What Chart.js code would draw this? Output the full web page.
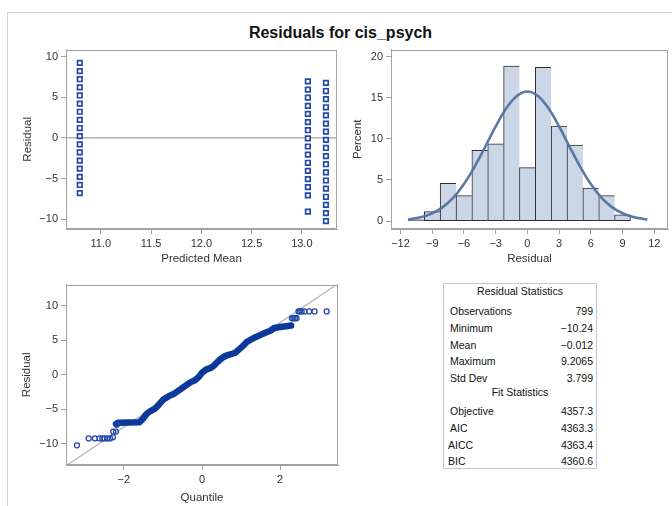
<!DOCTYPE html>
<html>
<head>
<meta charset="utf-8">
<script src="https://cdn.jsdelivr.net/npm/chart.js@4.4.0/dist/chart.umd.min.js"></script>
<style>
    html, body { margin: 0; padding: 0; background: #fff; width: 672px; height: 506px; overflow: hidden; }
    body { position: relative; font-family: "Liberation Sans", Arial, sans-serif; color: #222; }
    #frame { position: absolute; left: 7px; top: 12px; width: 700px; height: 520px;
             border-left: 1px solid #d4d4d4; border-top: 1px solid #d4d4d4; }
    #title { position: absolute; left: 0; width: 681px; top: 24px; line-height: 18px;
             text-align: center; font-size: 16px; font-weight: bold; color: #111; }
    canvas { position: absolute; }
    #stats { position: absolute; left: 443px; top: 283px; width: 154px; height: 186px;
             border: 1px solid #c8c8c8; box-sizing: border-box; font-size: 10.5px; color: #111; }
    #stats div { position: absolute; line-height: 12px; white-space: nowrap; }
</style>
</head>
<body>
<div id="frame"></div>
<div id="title">Residuals for cis_psych</div>
<canvas id="c1" width="345" height="229" style="left:0px; top:40px;"></canvas>
<canvas id="c2" width="327" height="229" style="left:345px; top:40px;"></canvas>
<canvas id="c3" width="345" height="231" style="left:0px; top:275px;"></canvas>
<div id="stats"></div>
<script>
// 잔차 vs 예측 평균 (세 그룹)
const predMean = [10.79, 13.06, 13.24];
const resGroup1 = [9.21, 8.21, 7.21, 6.21, 5.21, 4.21, 3.21, 2.21, 1.21, 0.21, -0.79, -1.79, -2.79, -3.79, -4.79, -5.79, -6.79];
const resGroup2 = [6.94, 5.94, 4.94, 3.94, 2.94, 1.94, 0.94, -0.06, -1.06, -2.06, -3.06, -4.06, -5.06, -6.06, -7.06, -9.06];
const resGroup3 = [6.76, 5.76, 4.76, 3.76, 2.76, 1.76, 0.76, -0.24, -1.24, -2.24, -3.24, -4.24, -5.24, -6.24, -7.24, -8.24, -9.24, -10.24];
const meanTicks = [11.0, 11.5, 12.0, 12.5, 13.0];
const residTicks = [-10, -5, 0, 5, 10];

// 히스토그램
const binMid = [-10.5, -9, -7.5, -6, -4.5, -3, -1.5, 0, 1.5, 3, 4.5, 6, 7.5, 9];
const binPct = [0.25, 1.15, 4.6, 3.1, 8.6, 9.4, 18.85, 6.5, 18.7, 11.55, 9.25, 4.0, 3.1, 0.75];
const curveX = [-11.3, -10, -9, -8, -7, -6, -5, -4, -3, -2, -1, 0, 1, 2, 3, 4, 5, 6, 7, 8, 9, 10, 11.35];
const curveY = [0.2, 0.5, 0.95, 1.7, 2.85, 4.5, 6.6, 9.0, 11.5, 13.7, 15.2, 15.75, 15.2, 13.7, 11.5, 9.0, 6.6, 4.5, 2.85, 1.7, 0.95, 0.5, 0.18];
const histTicks = [-12, -9, -6, -3, 0, 3, 6, 9, 12];
const pctTicks = [0, 5, 10, 15, 20];

// Q-Q 플롯
const bandQ = [-2.20, -2.15, -1.90, -1.60, -1.50, -1.42, -1.33, -1.20, -1.10, -0.99, -0.85, -0.73, -0.60, -0.50, -0.40, -0.30, -0.18, -0.08, 0.0, 0.10, 0.22, 0.30, 0.40, 0.50, 0.60, 0.72, 0.85, 0.95, 1.05, 1.15, 1.25, 1.38, 1.50, 1.62, 1.75, 1.85, 2.00, 2.15, 2.28];
const bandR = [-7.15, -6.95, -6.92, -6.9, -6.3, -5.7, -5.3, -4.9, -4.3, -3.6, -3.1, -2.8, -2.3, -1.9, -1.5, -1.1, -0.8, -0.3, 0.3, 0.75, 1.0, 1.3, 1.9, 2.4, 2.75, 2.95, 3.2, 3.7, 4.2, 4.8, 5.1, 5.5, 5.8, 6.1, 6.4, 6.8, 6.95, 7.05, 7.15];
const tailQ = [-3.20, -2.90, -2.74, -2.62, -2.55, -2.49, -2.42, -2.35, -2.28, -2.27, -2.20, -2.18, 2.30, 2.34, 2.38, 2.42, 2.47, 2.51, 2.55, 2.62, 2.74, 2.88, 3.19];
const tailR = [-10.24, -9.24, -9.24, -9.24, -9.24, -9.24, -9.24, -9.24, -9.06, -8.24, -8.24, -7.24, 8.21, 8.21, 8.21, 8.21, 9.21, 9.21, 9.21, 9.21, 9.21, 9.21, 9.21];
const diagQ = [-3.5, 3.5];
const diagR = [-13.3, 13.3];
const qqTicks = [-2, 0, 2];

// 통계 표
const residStats = [['Observations', '799'], ['Minimum', '\u221210.24'], ['Mean', '\u22120.012'], ['Maximum', '9.2065'], ['Std Dev', '3.799']];
const fitStats = [['Objective', '4357.3'], ['AIC', '4363.3'], ['AICC', '4363.4'], ['BIC', '4360.6']];

Chart.defaults.font.family = '"Liberation Sans", Arial, sans-serif';
Chart.defaults.color = '#333';

const GRAY = '#a2a2a2';
const minusFmt = v => (v < 0 ? '\u2212' + Math.abs(v) : String(v));

// 플롯 영역 테두리
const framePlugin = {
    id: 'frame',
    afterDraw(chart) {
        const { ctx, chartArea: a } = chart;
        ctx.save();
        ctx.strokeStyle = GRAY;
        ctx.lineWidth = 1;
        ctx.strokeRect(Math.round(a.left) + 0.5, Math.round(a.top) + 0.5,
                       Math.round(a.right - a.left) - 1, Math.round(a.bottom - a.top) - 1);
        ctx.restore();
    }
};

// 축 설정
function axis(min, max, ticks, title, size, titlePad, fmt, horizontal) {
    return {
        type: 'linear',
        min: min,
        max: max,
        offset: false,
        afterFit: s => { if (horizontal) s.height = size; else s.width = size; },
        afterBuildTicks: s => { s.ticks = ticks.map(v => ({ value: v })); },
        grid: { display: true, offset: false, drawOnChartArea: false, drawTicks: true, tickLength: 5, color: GRAY },
        border: { display: true, color: GRAY },
        ticks: { font: { size: 11 }, padding: 3, autoSkip: false, maxRotation: 0, callback: fmt },
        title: { display: true, text: title, font: { size: 11.5 }, padding: titlePad }
    };
}

const common = {
    responsive: false,
    animation: false,
    devicePixelRatio: 1,
    events: [],
    plugins: { legend: { display: false }, tooltip: { enabled: false } }
};

// 1) 잔차 vs 예측 평균
const pts1 = [resGroup1, resGroup2, resGroup3].flatMap((g, i) => g.map(r => ({ x: predMean[i], y: r })));
new Chart(document.getElementById('c1'), {
    type: 'scatter',
    data: {
        datasets: [{
            data: pts1,
            pointStyle: 'rect',
            pointRadius: 3.2,
            borderWidth: 1.7,
            borderColor: '#2449a8',
            backgroundColor: '#ffffff'
        }, {
            type: 'line',
            data: [{ x: 10.6, y: 0 }, { x: 13.4, y: 0 }],
            borderColor: '#8c8c8c',
            borderWidth: 1,
            pointRadius: 0
        }]
    },
    options: Object.assign({}, common, {
        layout: { padding: { top: 7, right: 8, left: 0, bottom: 0 } },
        scales: {
            x: axis(10.653, 13.35, meanTicks, 'Predicted Mean', 40, { top: 0, bottom: 3 }, v => v.toFixed(1), true),
            y: axis(-11.2, 10.85, residTicks, 'Residual', 66, { top: 21, bottom: 0 }, minusFmt, false)
        }
    }),
    plugins: [framePlugin]
});

// 2) 히스토그램 + 정규 곡선
new Chart(document.getElementById('c2'), {
    type: 'bar',
    data: {
        datasets: [{
            type: 'line',
            data: curveX.map((x, i) => ({ x: x, y: curveY[i] })),
            borderColor: 'rgba(84, 114, 160, 0.95)',
            borderWidth: 2.6,
            pointRadius: 0,
            cubicInterpolationMode: 'monotone'
        }, {
            type: 'bar',
            data: binMid.map((x, i) => ({ x: x, y: binPct[i] })),
            backgroundColor: '#cbd6e6',
            borderColor: '#2e2e2e',
            borderWidth: c => ({ top: 1, bottom: 1, left: 1, right: c.dataIndex === binMid.length - 1 ? 1 : 0 }),
            borderSkipped: false,
            barPercentage: 1,
            categoryPercentage: 1
        }]
    },
    options: Object.assign({}, common, {
        layout: { padding: { top: 7, right: 4, left: 0, bottom: 0 } },
        scales: {
            x: axis(-12.9, 13.3, histTicks, 'Residual', 40, { top: 0, bottom: 3 }, minusFmt, true),
            y: axis(-0.96, 20.84, pctTicks, 'Percent', 46, { top: 6.4, bottom: 0 }, minusFmt, false)
        }
    }),
    plugins: [framePlugin]
});

// 3) Q-Q 플롯
new Chart(document.getElementById('c3'), {
    type: 'scatter',
    data: {
        datasets: [{
            data: tailQ.map((q, i) => ({ x: q, y: tailR[i] })),
            pointStyle: 'circle',
            pointRadius: 2.5,
            borderWidth: 1.3,
            borderColor: '#2449a8',
            backgroundColor: 'rgba(255,255,255,0)'
        }, {
            type: 'line',
            data: bandQ.map((q, i) => ({ x: q, y: bandR[i] })),
            borderColor: '#0c3a9a',
            borderWidth: 6.5,
            borderJoinStyle: 'round',
            borderCapStyle: 'round',
            pointRadius: 0,
            tension: 0
        }, {
            type: 'line',
            data: diagQ.map((q, i) => ({ x: q, y: diagR[i] })),
            borderColor: '#b4b4b4',
            borderWidth: 1.2,
            pointRadius: 0
        }]
    },
    options: Object.assign({}, common, {
        layout: { padding: { top: 9, right: 7, left: 0, bottom: 0 } },
        scales: {
            x: axis(-3.48, 3.48, qqTicks, 'Quantile', 41, { top: 0, bottom: 1.4 }, minusFmt, true),
            y: axis(-13.1, 13.1, residTicks, 'Residual', 66, { top: 20.3, bottom: 0 }, minusFmt, false)
        }
    }),
    plugins: [framePlugin]
});

// 통계 표 (텍스트)
const stats = document.getElementById('stats');
function addText(text, left, centerY, align) {
    const d = document.createElement('div');
    d.textContent = text;
    d.style.top = (centerY - 283 - 6) + 'px';
    if (align === 'center') { d.style.left = '0px'; d.style.width = '152px'; d.style.textAlign = 'center'; }
    else if (align === 'right') { d.style.right = '3px'; }
    else { d.style.left = left + 'px'; }
    stats.appendChild(d);
}
addText('Residual Statistics', 0, 289.5, 'center');
residStats.forEach((r, i) => {
    const y = 310 + i * 16.8;
    addText(r[0], 6, y, 'left');
    addText(r[1], 0, y, 'right');
});
addText('Fit Statistics', 0, 391, 'center');
fitStats.forEach((r, i) => {
    const y = 410 + i * 16.8;
    addText(r[0], i < 2 ? 6 : 4, y, 'left');
    addText(r[1], 0, y, 'right');
});
</script>
</body>
</html>
